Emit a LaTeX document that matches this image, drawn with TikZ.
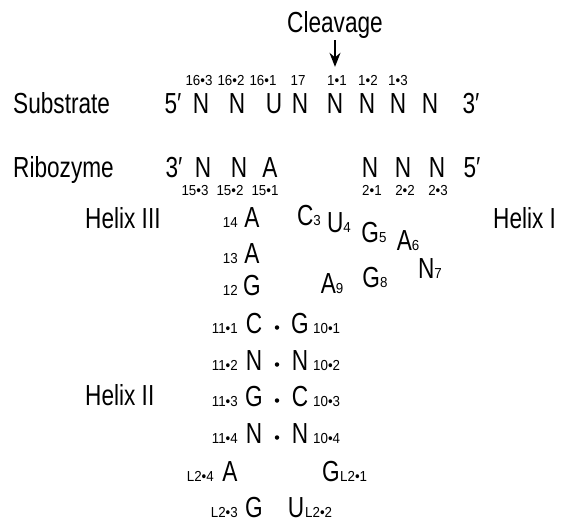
\documentclass[tikz,border=0pt]{standalone}
\usepackage{fontspec}
\setmainfont{Liberation Sans}[FakeStretch=0.78]
\newfontfamily\idxfamily{Liberation Sans}[FakeStretch=0.92]
\usetikzlibrary{arrows.meta}

\begin{document}
\begin{tikzpicture}[
    x=1pt, y=-1pt,
    % Large nucleotide letters, placed by their baseline
    nuc/.style={
        inner sep=0pt,
        anchor=base,
        font=\fontsize{29}{29}\selectfont
    },
    % Small position numbers
    idx/.style={
        inner sep=0pt,
        anchor=base,
        font=\idxfamily\fontsize{14.5}{14.5}\selectfont
    },
    % Row and helix names
    rowlbl/.style={
        inner sep=0pt,
        anchor=base west,
        font=\fontsize{29}{29}\selectfont
    },
    pairdot/.style={
        circle,
        fill=black,
        inner sep=0pt,
        minimum size=4.5pt
    }
]
    \useasboundingbox (0,0) rectangle (565,523);

    % --- SUBSTRATE STRAND ---
    \node[rowlbl] (substrate) at (13,113) {Substrate};
    \foreach \x/\t [count=\i] in {173/5′, 201/N, 237/N, 274/U, 300/N, 335/N, 367/N, 398/N, 430/N, 471/3′} {
        \node[nuc] (sub-\i) at (\x,113) {\t};
    }
    \foreach \x/\t [count=\i] in {199/16•3, 231/16•2, 263/16•1, 298/17, 337/1•1, 368/1•2, 398/1•3} {
        \node[idx] (sub-idx-\i) at (\x,85) {\t};
    }

    % Cleavage site arrow
    \node[nuc] (cleavage) at (335,32) {Cleavage};
    \draw[-{Stealth[length=14pt,width=11pt]}, line width=1.5pt, shorten <=2pt, shorten >=8pt]
        (cleavage.south) -- (cleavage.south |- sub-idx-5.north);

    % --- RIBOZYME STRAND ---
    \node[rowlbl] (ribozyme) at (13,177) {Ribozyme};
    \foreach \x/\t [count=\i] in {174/3′, 203/N, 239/N, 270/A, 370/N, 403/N, 437/N, 472/5′} {
        \node[nuc] (rib-\i) at (\x,177) {\t};
    }
    \foreach \x/\t [count=\i] in {195/15•3, 230/15•2, 265/15•1, 372/2•1, 405/2•2, 438/2•3} {
        \node[idx] (rib-idx-\i) at (\x,195) {\t};
    }

    % --- HELIX NAMES ---
    \node[rowlbl] (helix-iii) at (85,228) {Helix III};
    \node[rowlbl] (helix-i) at (493,228) {Helix I};
    \node[rowlbl] (helix-ii) at (85,405) {Helix II};

    % --- CATALYTIC CORE ---
    \foreach \y/\t/\n in {227/A/14, 263/A/13, 295/G/12} {
        \node[nuc] (core-\n) at (252,\y) {\t};
        \node[idx, anchor=base east] (core-idx-\n) at (238,\y) {\n};
    }
    \foreach \x/\y/\t/\n in {309/225/C/3, 339/232/U/4, 374/242/G/5, 408/250/A/6, 430/278/N/7, 375/287/G/8, 332/293/A/9} {
        \node[nuc] (core-\n) at (\x,\y) {\t{\idxfamily\fontsize{14.5}{14.5}\selectfont\n}};
    }

    % --- HELIX II PAIRS ---
    \foreach \y/\l/\r/\li/\ri [count=\i] in {333/C/G/11•1/10•1, 370/N/N/11•2/10•2, 406/G/C/11•3/10•3, 443/N/N/11•4/10•4} {
        \node[nuc] (h2-l-\i) at (254,\y) {\l};
        \node[nuc] (h2-r-\i) at (300,\y) {\r};
        \node[pairdot] (h2-bp-\i) at (277,\y-5.5) {};
        \node[idx, anchor=base east] (h2-lidx-\i) at (238,\y) {\li};
        \node[idx, anchor=base west] (h2-ridx-\i) at (313,\y) {\ri};
    }

    % Loop 2
    \node[nuc] (loop-4) at (230,481) {A};
    \node[idx, anchor=base east] (loop-idx-4) at (214,481) {L2•4};
    \node[nuc] (loop-1) at (331,481) {G};
    \node[idx, anchor=base west] (loop-idx-1) at (340,481) {L2•1};
    \node[nuc] (loop-3) at (254,517) {G};
    \node[idx, anchor=base east] (loop-idx-3) at (238,517) {L2•3};
    \node[nuc] (loop-2) at (296,517) {U};
    \node[idx, anchor=base west] (loop-idx-2) at (305,517) {L2•2};
\end{tikzpicture}
\end{document}
